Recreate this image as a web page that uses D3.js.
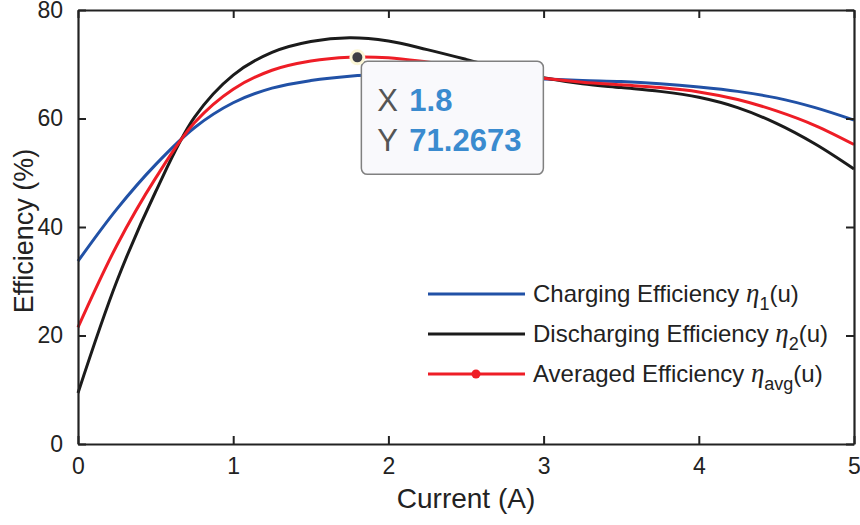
<!DOCTYPE html>
<html>
<head>
<meta charset="utf-8">
<script src="https://cdn.jsdelivr.net/npm/d3@7"></script>
<style>
  body { margin: 0; background: #fff; }
  text { font-family: "Liberation Sans", Arial, sans-serif; fill: #222; }
</style>
</head>
<body>
<svg width="860" height="525"></svg>
<script>
const current = [0, 0.25, 0.5, 0.75, 1, 1.25, 1.5, 1.75, 2, 2.25, 2.5, 2.75, 3, 3.25, 3.5, 3.75, 4, 4.25, 4.5, 4.75, 5];
const charging = [33.7, 43.3, 51.5, 58.3, 62.9, 65.6, 67.0, 67.8, 68.1, 68.1, 67.9, 67.6, 67.3, 67.0, 66.8, 66.4, 65.8, 65.0, 63.8, 62.0, 59.7];
const discharging = [9.4, 30.0, 46.5, 60.2, 68.0, 72.2, 74.2, 74.9, 74.3, 72.7, 70.9, 69.0, 67.5, 66.4, 65.7, 65.0, 63.9, 62.0, 59.1, 55.3, 50.7];
const averaged = [21.5, 36.6, 49.0, 59.2, 65.4, 68.9, 70.6, 71.3, 71.2, 70.4, 69.4, 68.3, 67.4, 66.7, 66.2, 65.7, 64.9, 63.5, 61.4, 58.7, 55.2];
const xTicks = [0, 1, 2, 3, 4, 5];
const yTicks = [0, 20, 40, 60, 80];
const tip = { x: 1.8, y: 71.2673 };

const svg = d3.select('svg');
const margin = { top: 10, left: 78, right: 6, bottom: 81 };
const width = +svg.attr('width');
const height = +svg.attr('height');
const innerWidth = width - margin.left - margin.right;
const innerHeight = height - margin.top - margin.bottom;

const xScale = d3.scaleLinear().domain([0, 5]).range([0, innerWidth]);
const yScale = d3.scaleLinear().domain([0, 80]).range([innerHeight, 0]);

const g = svg.append('g')
    .attr('transform', `translate(${margin.left},${margin.top})`);

// curves
const series = [
    { name: 'Charging Efficiency ', sub: '1', values: charging, color: '#2151a6' },
    { name: 'Discharging Efficiency ', sub: '2', values: discharging, color: '#1b1b1b' },
    { name: 'Averaged Efficiency ', sub: 'avg', values: averaged, color: '#ee1d26' }
];

const line = d3.line()
    .x((d, i) => xScale(current[i]))
    .y(d => yScale(d))
    .curve(d3.curveCatmullRom.alpha(0.5));

g.selectAll('path.curve')
    .data(series)
    .enter()
    .append('path')
    .attr('class', 'curve')
    .attr('d', d => line(d.values))
    .attr('fill', 'none')
    .attr('stroke', d => d.color)
    .attr('stroke-width', 3);

// axes on all four sides, ticks inward
const axisStyle = sel => {
    sel.selectAll('.domain').attr('stroke', '#222').attr('stroke-width', 2.2);
    sel.selectAll('.tick line').attr('stroke', '#222').attr('stroke-width', 2);
    sel.selectAll('.tick text')
        .attr('font-size', 23)
        .attr('font-family', '"Liberation Sans", Arial, sans-serif')
        .attr('fill', '#222');
};

g.append('g')
    .attr('transform', `translate(0,${innerHeight})`)
    .call(d3.axisBottom(xScale).tickValues(xTicks).tickFormat(d3.format('d'))
        .tickSizeInner(-8).tickSizeOuter(0).tickPadding(14))
    .call(axisStyle);
g.append('g')
    .call(d3.axisTop(xScale).tickValues(xTicks).tickSizeInner(-8).tickSizeOuter(0).tickFormat(''))
    .call(axisStyle);
g.append('g')
    .call(d3.axisLeft(yScale).tickValues(yTicks).tickFormat(d3.format('d'))
        .tickSizeInner(-8).tickSizeOuter(0).tickPadding(15))
    .call(axisStyle);
g.append('g')
    .attr('transform', `translate(${innerWidth},0)`)
    .call(d3.axisRight(yScale).tickValues(yTicks).tickSizeInner(-8).tickSizeOuter(0).tickFormat(''))
    .call(axisStyle);

// axis labels
g.append('text')
    .attr('x', innerWidth / 2)
    .attr('y', innerHeight + 64)
    .attr('text-anchor', 'middle')
    .attr('font-size', 28)
    .text('Current (A)');

g.append('text')
    .attr('transform', `translate(-45,${innerHeight / 2 + 4}) rotate(-90)`)
    .attr('text-anchor', 'middle')
    .attr('font-size', 27)
    .text('Efficiency (%)');

// legend
const legend = g.append('g').attr('transform', 'translate(350,284)');
const rows = legend.selectAll('g')
    .data(series)
    .enter()
    .append('g')
    .attr('transform', (d, i) => `translate(0,${i * 40})`);

rows.append('line')
    .attr('x1', 0).attr('x2', 97)
    .attr('stroke', d => d.color)
    .attr('stroke-width', 3);

rows.filter((d, i) => i === 2)
    .append('circle')
    .attr('cx', 48).attr('r', 4.5)
    .attr('fill', d => d.color);

const label = rows.append('text')
    .attr('x', 105)
    .attr('y', 8)
    .attr('font-size', 24);
label.append('tspan').text(d => d.name);
label.append('tspan')
    .attr('font-family', '"Liberation Serif", "DejaVu Serif", serif')
    .attr('font-style', 'italic')
    .attr('font-size', 27)
    .text('η');
label.append('tspan')
    .attr('font-size', 18)
    .attr('dy', 8)
    .text(d => d.sub);
label.append('tspan')
    .attr('dy', -8)
    .text('(u)');

// data tip
const tx = xScale(tip.x);
const ty = yScale(tip.y);
const tipG = g.append('g');
tipG.append('rect')
    .attr('x', tx + 4)
    .attr('y', ty + 4)
    .attr('width', 182)
    .attr('height', 113)
    .attr('rx', 6)
    .attr('fill', '#f9f9fc')
    .attr('stroke', '#808080')
    .attr('stroke-width', 1.5);

const tipRows = [['X', String(tip.x)], ['Y', String(tip.y)]];
tipRows.forEach((r, i) => {
    const t = tipG.append('text')
        .attr('x', tx + 20)
        .attr('y', ty + 54 + i * 40)
        .attr('font-size', 31);
    t.append('tspan').attr('fill', '#555').text(r[0]);
    t.append('tspan')
        .attr('x', tx + 52)
        .attr('fill', '#3a8bcf')
        .attr('font-weight', 'bold')
        .text(r[1]);
});

tipG.append('circle')
    .attr('cx', tx)
    .attr('cy', ty)
    .attr('r', 6.5)
    .attr('fill', '#3e3e46')
    .attr('stroke', '#fbf6d6')
    .attr('stroke-width', 3);
</script>
</body>
</html>
